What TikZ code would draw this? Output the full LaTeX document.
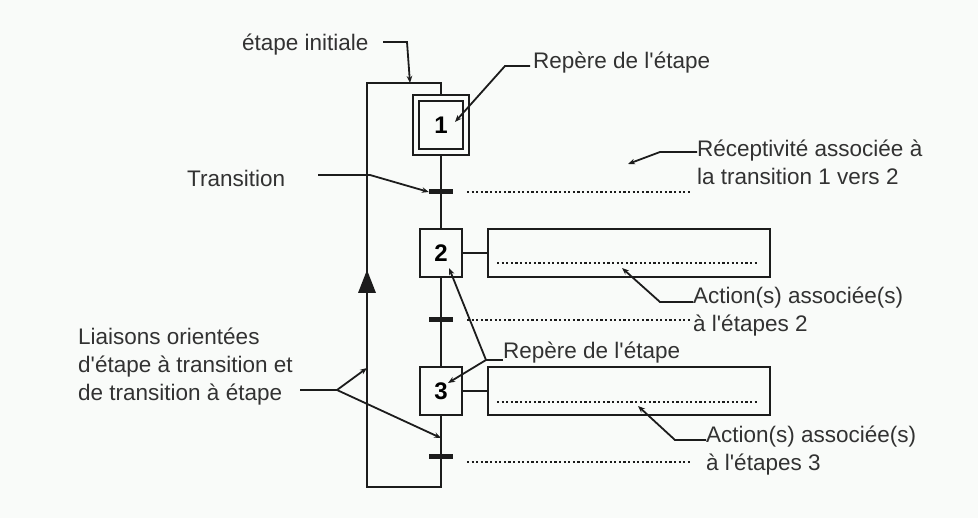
\documentclass[tikz,border=0pt]{standalone}
\usepackage{fontspec}
\setmainfont{Liberation Sans}
\usetikzlibrary{arrows.meta, positioning}
\definecolor{paper}{RGB}{249,251,249}
\definecolor{ink}{RGB}{28,28,28}
\definecolor{txt}{RGB}{50,50,50}
\newcommand{\ap}{\textquotesingle}

\begin{document}
\begin{tikzpicture}[
  x=1pt, y=-1pt,
  >=Stealth,
  etape/.style={
    draw=ink,
    line width=1.4pt,
    minimum width=42pt,
    minimum height=48pt,
    inner sep=0pt,
    font=\bfseries\fontsize{24}{24}\selectfont
  },
  action/.style={
    draw=ink,
    line width=1.4pt,
    minimum width=282pt,
    minimum height=48pt,
    inner sep=0pt
  },
  franchir/.style={
    fill=ink,
    minimum width=24pt,
    minimum height=5pt,
    inner sep=0pt
  },
  link/.style={
    draw=ink,
    line width=1.4pt
  },
  recep/.style={
    draw=ink,
    line width=2.6pt,
    dash pattern=on 2.2pt off 2.4pt
  },
  callout/.style={
    -{Stealth[length=7pt,width=5.5pt]},
    draw=ink,
    line width=1.8pt
  },
  label/.style={
    text=txt,
    inner sep=0pt,
    align=left,
    anchor=west,
    font=\fontsize{22.5}{28}\selectfont
  }
]

\fill[paper] (0,0) rectangle (978,518);
\useasboundingbox (0,0) rectangle (978,518);

% steps and transitions
\node[etape, minimum width=56pt, minimum height=60pt] (s1) at (441,125) {};
\node[etape, minimum width=44pt, minimum height=48pt] (s1in) at (441,125) {1};
\node[etape] (s2) at (441,253) {2};
\node[etape] (s3) at (441,391) {3};

\node[franchir] (t1) at (441,192) {};
\node[franchir] (t2) at (441,320) {};
\node[franchir] (t3) at (441,457) {};

\node[action] (a2) at (629,253) {};
\node[action] (a3) at (629,391) {};

% loop back to the initial step
\coordinate (loop tr) at (441,83);
\coordinate (loop tl) at (367,83);
\coordinate (loop bl) at (367,487);
\coordinate (loop br) at (441,487);

\draw[link] (s1.south) -- (s2.north);
\draw[link] (s2.south) -- (s3.north);
\draw[link] (s3.south) -- (loop br) -- (loop bl) -- (loop tl) -- (loop tr) -- (s1.north);
\draw[link] (s2.east) -- (a2.west);
\draw[link] (s3.east) -- (a3.west);
\fill[ink] (358,293) -- (376,293) -- (367,270) -- cycle;

% receptivities and actions
\draw[recep] (467,192) -- (690,192);
\draw[recep] (467,320) -- (690,320);
\draw[recep] (467,462) -- (690,462);
\draw[recep] (497,263) -- (758,263);
\draw[recep] (497,402) -- (758,402);

% labels
\node[label] (initiale) at (242,45) {étape initiale};
\node[label] (repere1) at (533,63) {Repère de l\ap étape};
\node[label] (transition) at (187,178) {Transition};
\node[label] (receptivite) at (697,162) {Réceptivité associée à\\la transition 1 vers 2};
\node[label] (action2) at (693,312) {Action(s) associée(s)\\à l\ap étapes 2};
\node[label] (repere2) at (503,353) {Repère de l\ap étape};
\node[label] (liaisons) at (78,367) {Liaisons orientées\\d\ap étape à transition et\\de transition à étape};
\node[label] (action3) at (706,451) {Action(s) associée(s)\\à l\ap étapes 3};

% callouts
\coordinate (hub liaisons) at (337,390);
\coordinate (hub repere) at (486,360);

\draw[callout] (383,42) -- (407,42) -- (410,83);
\draw[callout] (530,66) -- (505,66) -- (455,122);
\draw[callout] (318,175) -- (370,175) -- (t1.west);
\draw[callout] (receptivite.west |- 0,152) -- (660,152) -- (628,164);
\draw[callout] (action2.west |- 0,302) -- (660,302) -- (622,268);
\draw[callout] (action3.west |- 0,440) -- (675,440) -- (638,406);
\draw[link, line width=1.8pt] (repere2.west |- 0,360) -- (hub repere);
\draw[callout] (hub repere) -- (449,268);
\draw[callout] (hub repere) -- (448,383);
\draw[link, line width=1.8pt] (300,390) -- (hub liaisons);
\draw[callout] (hub liaisons) -- (loop bl |- 0,368);
\draw[callout] (hub liaisons) -- (441,438);

\end{tikzpicture}
\end{document}
